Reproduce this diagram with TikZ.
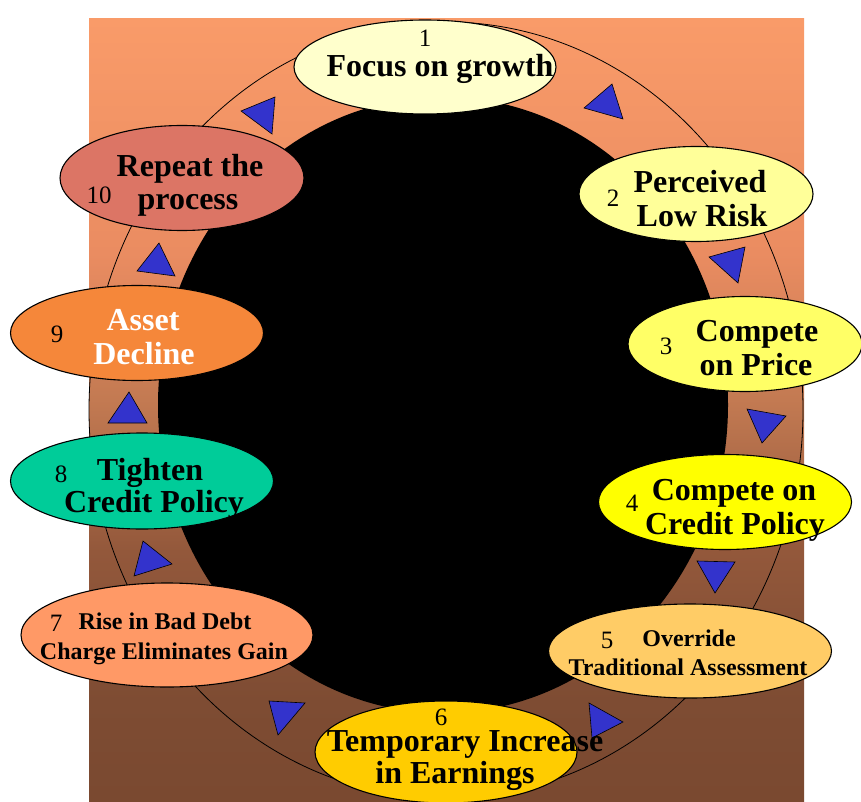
\documentclass[tikz,border=0pt]{standalone}
\usepackage{fontspec}
\setmainfont{Liberation Serif}
\usetikzlibrary{shapes.geometric}

\definecolor{bgTop}{HTML}{F99B69}
\definecolor{bgUpper}{HTML}{EA8C61}
\definecolor{bgMid}{HTML}{C37A52}
\definecolor{bgLower}{HTML}{93583B}
\definecolor{bgLow}{HTML}{7E4C33}
\definecolor{bgBottom}{HTML}{7A4930}
\definecolor{arrowblue}{HTML}{3333CC}
\definecolor{cOne}{HTML}{FFFFCC}
\definecolor{cTwo}{HTML}{FFFF99}
\definecolor{cThree}{HTML}{FFFF66}
\definecolor{cFour}{HTML}{FFFF00}
\definecolor{cFive}{HTML}{FFCC66}
\definecolor{cSix}{HTML}{FFCC00}
\definecolor{cSeven}{HTML}{FF9966}
\definecolor{cEight}{HTML}{00CC99}
\definecolor{cNine}{HTML}{F5873A}
\definecolor{cTen}{HTML}{DC7565}

% stops between 25bp and 75bp span the filled rectangle
\pgfdeclareverticalshading{bgfade}{100bp}{%
  color(0bp)=(bgBottom); color(25bp)=(bgBottom); color(31.5bp)=(bgLow);
  color(41bp)=(bgLower); color(50.7bp)=(bgMid); color(60bp)=(bgUpper);
  color(75bp)=(bgTop); color(100bp)=(bgTop)}

\tikzset{
  bub/.style={ellipse, draw=black, line width=1.1pt, inner sep=0pt},
  lab/.style={anchor=base, inner sep=0pt, font=\fontsize{32}{33}\selectfont\bfseries},
  smalllab/.style={anchor=base, inner sep=0pt, font=\fontsize{24}{29}\selectfont\bfseries},
  num/.style={anchor=base, inner sep=0pt, font=\fontsize{25}{28}\selectfont},
  ring/.style={draw=black, line width=0.8pt},
  tri/.style={fill=arrowblue, draw=black, line width=0.6pt, line join=miter},
}

\begin{document}
\begin{tikzpicture}[x=1pt, y=-1pt]
\useasboundingbox (0,0) rectangle (861,802);
\fill[white] (0,0) rectangle (861,802);

% graded backdrop
\shade[shading=bgfade] (89,19) rectangle (804,802);

% outer guide ring and black core
\draw[ring] (446,410) ellipse [x radius=357pt, y radius=388pt];
\fill[black] (443,405) ellipse [x radius=285pt, y radius=308pt];

% direction markers around the cycle
\draw[tri] (241,111) -- (275,97) -- (272,134) -- cycle;
\draw[tri] (584,108) -- (612,84) -- (623,119) -- cycle;
\draw[tri] (709,257) -- (745,247) -- (738,283) -- cycle;
\draw[tri] (747,409) -- (786,416) -- (762,443) -- cycle;
\draw[tri] (697,561) -- (735,562) -- (715,593) -- cycle;
\draw[tri] (589,703) -- (623,722) -- (592,738) -- cycle;
\draw[tri] (269,701) -- (305,703) -- (278,735) -- cycle;
\draw[tri] (134,576) -- (143,541) -- (172,564) -- cycle;
\draw[tri] (108,423) -- (147,423) -- (129,392) -- cycle;
\draw[tri] (137,271) -- (175,276) -- (159,243) -- cycle;

% stage ellipses
\node[bub, fill=cOne,   minimum width=262pt, minimum height=94pt]  (n1)  at (425,67)  {};
\node[bub, fill=cTwo,   minimum width=234pt, minimum height=95pt]  (n2)  at (696,194) {};
\node[bub, fill=cThree, minimum width=234pt, minimum height=95pt]  (n3)  at (745,344) {};
\node[bub, fill=cFour,  minimum width=253pt, minimum height=95pt]  (n4)  at (725,502) {};
\node[bub, fill=cFive,  minimum width=283pt, minimum height=94pt]  (n5)  at (690,651) {};
\node[bub, fill=cSix,   minimum width=262pt, minimum height=102pt] (n6)  at (446,752) {};
\node[bub, fill=cSeven, minimum width=292pt, minimum height=104pt] (n7)  at (167,635) {};
\node[bub, fill=cEight, minimum width=263pt, minimum height=96pt]  (n8)  at (142,481) {};
\node[bub, fill=cNine,  minimum width=253pt, minimum height=95pt]  (n9)  at (137,333) {};
\node[bub, fill=cTen,   minimum width=244pt, minimum height=105pt] (n10) at (182,178) {};

% stage numbers
\node[num] (k1)  at (425,47)  {1};
\node[num] (k2)  at (613,207) {2};
\node[num] (k3)  at (666,354) {3};
\node[num] (k4)  at (632,511) {4};
\node[num] (k5)  at (607,648) {5};
\node[num] (k6)  at (441,725) {6};
\node[num] (k7)  at (56,631)  {7};
\node[num] (k8)  at (61,482)  {8};
\node[num] (k9)  at (57,342)  {9};
\node[num] (k10) at (99,204)  {10};

% stage captions
\node[lab] (t1)  at (440,77)  {Focus on growth};
\node[lab] (t2a) at (700,193) {Perceived};
\node[lab] (t2b) at (702,227) {Low Risk};
\node[lab] (t3a) at (757,341) {Compete};
\node[lab] (t3b) at (756,375) {on Price};
\node[lab] (t4a) at (734,500) {Compete on};
\node[lab] (t4b) at (735,534) {Credit Policy};
\node[smalllab] (t5a) at (689,646) {Override};
\node[smalllab] (t5b) at (688,675) {Traditional Assessment};
\node[lab] (t6a) at (465,751) {Temporary Increase};
\node[lab] (t6b) at (455,783) {in Earnings};
\node[smalllab] (t7a) at (165,629) {Rise in Bad Debt};
\node[smalllab] (t7b) at (164,659) {Charge Eliminates Gain};
\node[lab] (t8a) at (150,480) {Tighten};
\node[lab] (t8b) at (154,512) {Credit Policy};
\node[lab, text=white] (t9a) at (143,330) {Asset};
\node[lab, text=white] (t9b) at (144,364) {Decline};
\node[lab] (t10a) at (190,177) {Repeat the};
\node[lab] (t10b) at (188,210) {process};
\end{tikzpicture}
\end{document}
